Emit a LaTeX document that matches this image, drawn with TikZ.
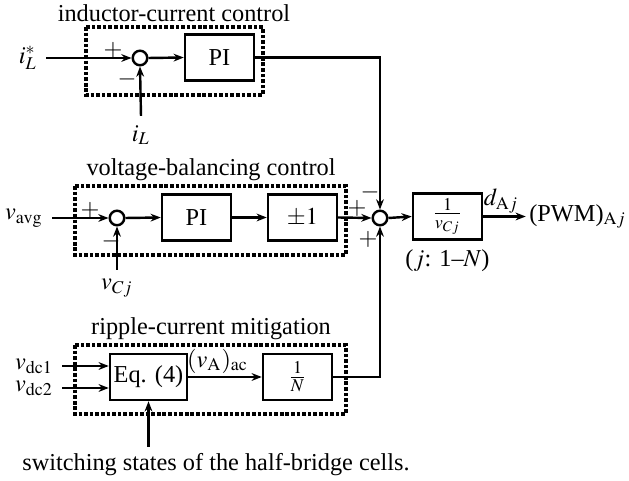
\documentclass[tikz,border=0pt]{standalone}
\usepackage{mathptmx}
\usepackage{fontspec}
\setmainfont{Liberation Serif}
\usepackage{tikz}
\usetikzlibrary{arrows.meta, positioning, calc}

\tikzset{
  blk/.style={draw, line width=1pt, minimum width=28.4pt, minimum height=19pt, inner sep=0pt},
  sumpt/.style={draw, circle, line width=1pt, minimum size=6pt, inner sep=0pt},
  dashbox/.style={line width=1.3pt, dash pattern=on 1.5pt off 0.8pt},
  sgn/.style={inner sep=0pt},
}

\begin{document}
\begin{tikzpicture}[x=0.4115pt, y=-0.4115pt, >={Stealth[length=4.2pt, width=3.2pt]}, line width=1pt]
        \useasboundingbox (0,0) rectangle (629,481);
        % inductor-current control
        \node (t1) at (174,13) {inductor-current control};
        \draw[dashbox] (86,27) rectangle (263,95);
        \node (iLref) at (28,58) {$i_L^*$};
        \node[sumpt] (s1) at (140,58) {};
        \node[blk] (pi1) at (219.5,57.5) {PI};
        \node (iL) at (141,135) {$i_L$};
        \node[sgn] (p1) at (113,50) {$+$};
        \node[sgn] (m1) at (127,79) {$-$};
        \draw[->] (iLref.east) -- (s1.west);
        \draw[->] (s1.east) -- (pi1.west);
        \draw[->] (iL.north) -- (s1.south);
        % voltage-balancing control
        \node (t2) at (211,170) {voltage-balancing control};
        \draw[dashbox] (75,186) rectangle (346,255);
        \node (vavg) at (24,218) {$v_{\mathrm{avg}}$};
        \node[sumpt] (s3) at (117,218) {};
        \node[blk] (pi2) at (196.5,217.5) {PI};
        \node[blk] (pm) at (302.5,217.5) {$\pm 1$};
        \node (vCj) at (117,288) {$v_{Cj}$};
        \node[sgn] (p3) at (90,210) {$+$};
        \node[sgn] (m3) at (111,241) {$-$};
        \draw[->] (vavg.east) -- (s3.west);
        \draw[->] (s3.east) -- (pi2.west);
        \draw[->] (pi2.east) -- (pm.west);
        \draw[->] (vCj.north) -- (s3.south);
        % summing point and output
        \node[sumpt] (s2) at (380,218) {};
        \node[sgn] (m2) at (370,192) {$-$};
        \node[sgn] (p2a) at (357,208) {$+$};
        \node[sgn] (p2b) at (368,239) {$+$};
        \node[blk] (inv) at (447.5,216.5) {$\frac{1}{v_{Cj}}$};
        \node[below=0pt of inv] (jrng) {($j$: 1--$N$)};
        \node[right=17.5pt of inv.east, inner sep=1pt] (pwm) {(PWM)$_{\mathrm{A}j}$};
        \draw[->] (pi1.east) -| (s2.north);
        \draw[->] (pm.east) -- (s2.west);
        \draw[->] (s2.east) -- (inv.west);
        \draw[->] (inv.east) -- node[above, pos=0.42, inner sep=1pt] (dAj) {$d_{\mathrm{A}j}$} (pwm.west);
        % ripple-current mitigation
        \node (t3) at (211,329) {ripple-current mitigation};
        \draw[dashbox] (75,345) rectangle (346,414);
        \node[blk, minimum width=31.7pt] (eq) at (148.5,377) {Eq. (4)};
        \node[blk] (invN) at (297.5,377) {$\frac{1}{N}$};
        \node (vdc1) at (34,366) {$v_{\mathrm{dc1}}$};
        \node (vdc2) at (34,388) {$v_{\mathrm{dc2}}$};
        \node (sw) at (216,465) {switching states of the half-bridge cells.};
        \coordinate (swtop) at (148.5,447);
        \draw[->] (vdc1.east) -- (vdc1.east -| eq.west);
        \draw[->] (vdc2.east) -- (vdc2.east -| eq.west);
        \draw[->] (eq.east) -- node[above, pos=0.4, inner sep=1pt] (vAac) {$(v_{\mathrm{A}})_{\mathrm{ac}}$} (invN.west);
        \draw[->] (swtop) -- (eq.south);
        \draw[->] (invN.east) -| (s2.south);
    \end{tikzpicture}
\end{document}
